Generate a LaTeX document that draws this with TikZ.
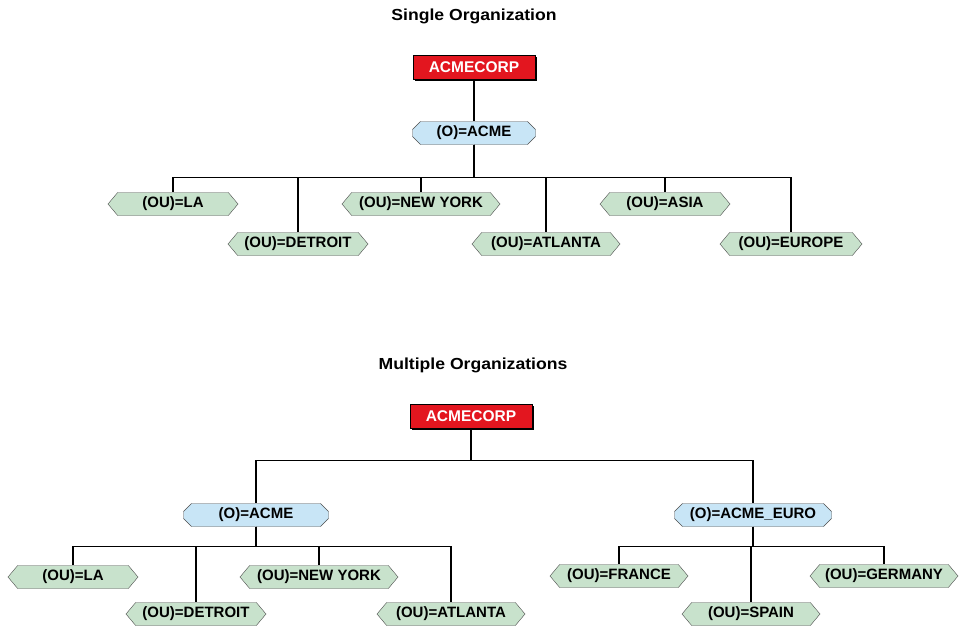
\documentclass[tikz,border=0pt]{standalone}
\usepackage{fontspec}
\setmainfont{Liberation Sans}
\usetikzlibrary{shapes.symbols,shapes.misc,shadows}

\definecolor{corpred}{RGB}{227,22,31}
\definecolor{orgblue}{RGB}{200,229,246}
\definecolor{ougreen}{RGB}{200,226,204}

\tikzset{
  corp/.style={shape=rectangle, draw=black, line width=1pt, fill=corpred, text=white,
    minimum width=122pt, minimum height=24pt, inner sep=0pt,
    drop shadow={shadow xshift=2pt, shadow yshift=-2pt, fill=black, opacity=1},
    font=\fontsize{15.5}{17}\selectfont\bfseries},
  org/.style={shape=chamfered rectangle, chamfered rectangle xsep=4pt, chamfered rectangle ysep=4pt,
    draw=black!70, fill=orgblue, minimum height=23pt, inner xsep=6pt, inner ysep=0pt,
    font=\fontsize{15}{17}\selectfont\bfseries},
  ou/.style={shape=signal, signal to=west and east, signal pointer angle=100,
    draw=black!70, fill=ougreen, minimum height=23pt, inner xsep=1pt, inner ysep=0pt,
    font=\fontsize{15}{17}\selectfont\bfseries},
  ttl/.style={font=\fontsize{16}{18}\selectfont\bfseries, xscale=1.1},
  link/.style={draw=black, line width=1.4pt}
}

\begin{document}
\begin{tikzpicture}[x=1pt,y=-1pt]
    \useasboundingbox (0,0) rectangle (961,627);

    \node[ttl] at (474,16) (T1) {Single Organization};
    \node[corp] at (474,67) (C1) {ACMECORP};
    \node[org, minimum width=123pt] at (474,133) (O1) {(O)=ACME};
    \node[ou, minimum width=130pt] at (173,204) (LA1) {(OU)=LA};
    \node[ou, minimum width=140pt] at (298,244) (DE1) {(OU)=DETROIT};
    \node[ou, minimum width=158pt] at (421,204) (NY1) {(OU)=NEW YORK};
    \node[ou, minimum width=148pt] at (546,244) (AT1) {(OU)=ATLANTA};
    \node[ou, minimum width=130pt] at (665,204) (AS1) {(OU)=ASIA};
    \node[ou, minimum width=142pt] at (791,244) (EU1) {(OU)=EUROPE};
    \path[link] (C1) -- (O1);
    \path[link] (O1.south) -- ++(0,33) -| (LA1.north);
    \path[link] (O1.south) -- ++(0,33) -| (DE1.north);
    \path[link] (O1.south) -- ++(0,33) -| (NY1.north);
    \path[link] (O1.south) -- ++(0,33) -| (AT1.north);
    \path[link] (O1.south) -- ++(0,33) -| (AS1.north);
    \path[link] (O1.south) -- ++(0,33) -| (EU1.north);

    \node[ttl] at (473,365) (T2) {Multiple Organizations};
    \node[corp] at (471,416) (C2) {ACMECORP};
    \node[org, minimum width=145pt] at (256,515) (O2) {(O)=ACME};
    \node[org, minimum width=157pt] at (753,515) (O3) {(O)=ACME\_EURO};
    \node[ou, minimum width=130pt] at (73,577) (LA2) {(OU)=LA};
    \node[ou, minimum width=140pt] at (196,614) (DE2) {(OU)=DETROIT};
    \node[ou, minimum width=158pt] at (319,577) (NY2) {(OU)=NEW YORK};
    \node[ou, minimum width=148pt] at (451,614) (AT2) {(OU)=ATLANTA};
    \node[ou, minimum width=138pt] at (619,576) (FR2) {(OU)=FRANCE};
    \node[ou, minimum width=138pt] at (751,614) (SP2) {(OU)=SPAIN};
    \node[ou, minimum width=148pt] at (884,576) (GE2) {(OU)=GERMANY};
    \path[link] (C2.south) -- ++(0,32) -| (O2.north);
    \path[link] (C2.south) -- ++(0,32) -| (O3.north);
    \path[link] (O2.south) -- ++(0,20) -| (LA2.north);
    \path[link] (O2.south) -- ++(0,20) -| (DE2.north);
    \path[link] (O2.south) -- ++(0,20) -| (NY2.north);
    \path[link] (O2.south) -- ++(0,20) -| (AT2.north);
    \path[link] (O3.south) -- ++(0,20) -| (FR2.north);
    \path[link] (O3.south) -- ++(0,20) -| (SP2.north);
    \path[link] (O3.south) -- ++(0,20) -| (GE2.north);
\end{tikzpicture}
\end{document}
